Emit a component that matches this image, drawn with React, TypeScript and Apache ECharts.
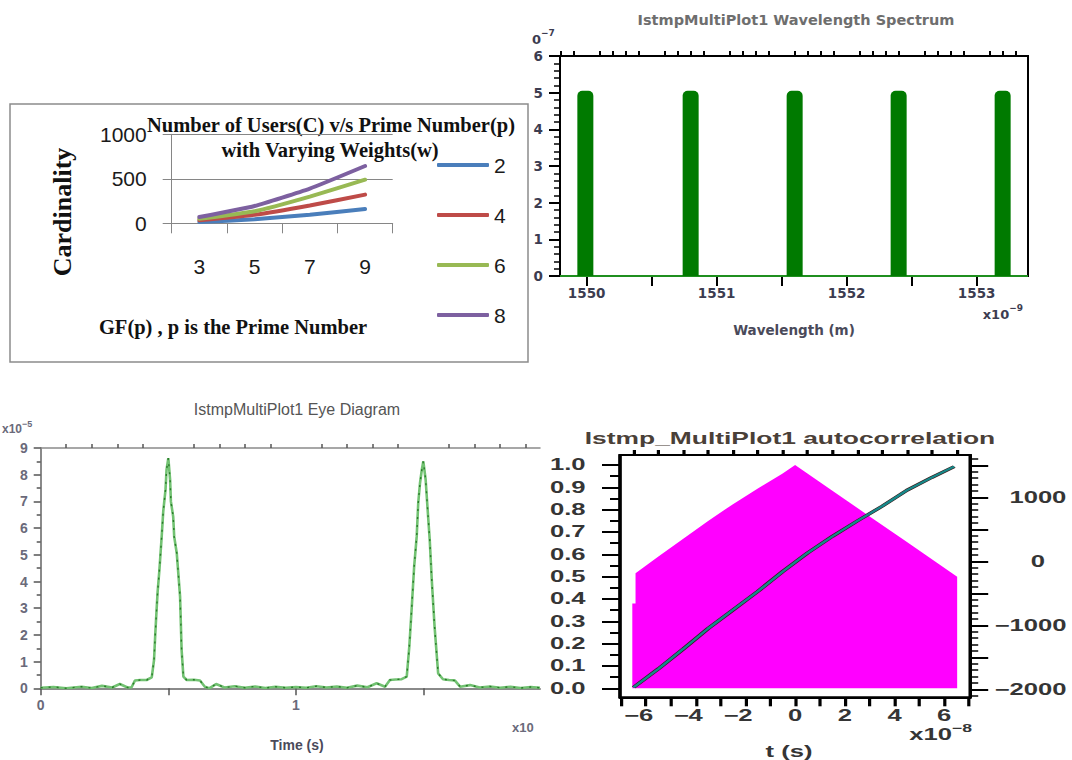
import React, { useEffect, useRef } from "react";
import * as echarts from "echarts";

// ---------- Chart 1: Number of users vs prime number ----------
const primeCategories = ["3", "5", "7", "9"];
const weightLabels = ["2", "4", "6", "8"];
const usersW2 = [15, 45, 97, 160];
const usersW4 = [33, 95, 200, 322];
const usersW6 = [50, 135, 300, 490];
const usersW8 = [70, 195, 390, 644];
const weightColors = ["#4a7ebb", "#be4b48", "#98b954", "#7d60a0"];

// ---------- Chart 2: wavelength spectrum ----------
const peakWavelengths = [1549.99, 1550.8, 1551.6, 1552.4, 1553.2];
const peakPowers = [5.05, 5.05, 5.05, 5.05, 5.05];
const baselineWavelengths = [1549.795, 1553.395];
const baselinePowers = [0, 0];
const specLabelValues = [1550, 1551, 1552, 1553];
const specMajorTickValues = [1550, 1550.5, 1551, 1551.5, 1552, 1552.5, 1553];

// ---------- Chart 3: eye diagram ----------
const eyeTime = [0, 0.05, 0.1, 0.16, 0.2, 0.24, 0.28, 0.31, 0.34, 0.356, 0.369, 0.39, 0.415, 0.435, 0.444, 0.449, 0.454, 0.458, 0.465, 0.474, 0.48, 0.489, 0.493, 0.5, 0.507, 0.51, 0.519, 0.523, 0.533, 0.539, 0.546, 0.552, 0.559, 0.572, 0.6, 0.624, 0.643, 0.66, 0.687, 0.72, 0.76, 0.8, 0.84, 0.88, 0.92, 0.96, 1.0, 1.04, 1.08, 1.12, 1.16, 1.2, 1.24, 1.28, 1.316, 1.349, 1.368, 1.39, 1.414, 1.434, 1.444, 1.453, 1.463, 1.473, 1.479, 1.486, 1.493, 1.499, 1.508, 1.515, 1.524, 1.532, 1.543, 1.557, 1.576, 1.6, 1.623, 1.643, 1.682, 1.72, 1.76, 1.8, 1.84, 1.88, 1.92, 1.956];
const eyeAmp = [0.02, 0.05, 0.0, 0.06, 0.01, 0.09, 0.03, 0.16, 0.03, 0.04, 0.29, 0.31, 0.31, 0.41, 1.06, 2.06, 2.94, 3.6, 4.43, 5.69, 6.62, 7.44, 8.19, 8.62, 7.81, 7.0, 6.43, 5.68, 5.06, 4.31, 3.43, 1.44, 0.44, 0.31, 0.32, 0.29, 0.06, 0.0, 0.16, 0.03, 0.08, 0.02, 0.07, 0.01, 0.06, 0.02, 0.05, 0.02, 0.08, 0.03, 0.07, 0.02, 0.1, 0.04, 0.19, 0.06, 0.31, 0.33, 0.34, 0.44, 1.56, 2.94, 4.56, 5.69, 6.94, 7.69, 8.19, 8.5, 7.81, 6.81, 5.56, 4.06, 2.31, 0.56, 0.34, 0.31, 0.29, 0.06, 0.12, 0.03, 0.07, 0.02, 0.06, 0.01, 0.05, 0.02];
const eyeLabelValues = [0, 1];
const eyeMajorTickValues = [0, 0.5, 1, 1.5];

// ---------- Chart 4: autocorrelation ----------
const acTime = [-6.55, -6.42, -6.42, -5.5, -4.5, -3.5, -2.5, -1.5, -0.5, 0, 1.5, 3, 4.5, 6.52];
const acValue = [0.38, 0.38, 0.515, 0.59, 0.67, 0.75, 0.825, 0.895, 0.962, 1.0, 0.885, 0.77, 0.655, 0.5];
const slopeTime = [-6.5, -5.5, -4.5, -3.5, -2.5, -1.5, -0.5, 0.5, 1.5, 2.5, 3.5, 4.5, 5.5, 6.4];
const slopeValue = [-1970, -1680, -1370, -1050, -760, -470, -160, 130, 390, 630, 860, 1110, 1310, 1480];
const acRightLabelValues = [-2000, -1000, 0, 1000];
const acBottomLabelValues = [-6, -4, -2, 0, 2, 4, 6];

function tickRange(start: number, end: number, step: number, skip?: number[]) {
  const out: number[] = [];
  const n = Math.round((end - start) / step);
  for (let i = 0; i <= n; i++) {
    const v = +(start + i * step).toFixed(6);
    if (!skip || !skip.some((s) => Math.abs(s - v) < 1e-9)) out.push(v);
  }
  return out;
}

const specMinorTickValues = tickRange(1549.8, 1553.3, 0.1, specMajorTickValues);
const eyeMinorTickValues = tickRange(0.1, 1.9, 0.1, eyeMajorTickValues);
const acLeftValues = tickRange(0, 1, 0.1);
const acLeftMinorValues = tickRange(0.05, 0.95, 0.1);
const acRightMajorValues = tickRange(-2000, 1500, 500);
const acRightMinorValues = tickRange(-2100, 1600, 100, acRightMajorValues);
const acBottomMajorValues = tickRange(-7, 7, 1);
const acBottomMinorValues = tickRange(-6.5, 6.5, 1);

const SANS = "Liberation Sans";
const SERIF = "Liberation Serif";
const DV = "DejaVu Sans";

function txt(x: number, y: number, text: string, font: string, fill: string, align = "center", extra: any = {}) {
  return {
    type: "text",
    x,
    y,
    ...extra,
    style: { text, font, fill, align, verticalAlign: "middle", textAlign: align, textVerticalAlign: "middle" },
  };
}

function supText(x: number, y: number, base: string, sup: string, size: number, supSize: number, family: string, weight: string, fill: string, align: string) {
  return {
    type: "text",
    x,
    y,
    style: {
      text: `{a|${base}}{b|${sup}}`,
      align,
      textAlign: align,
      verticalAlign: "middle",
      textVerticalAlign: "middle",
      rich: {
        a: { fontSize: size, fontFamily: family, fontWeight: weight, fill, lineHeight: size + 4, verticalAlign: "bottom" },
        b: { fontSize: supSize, fontFamily: family, fontWeight: weight, fill, verticalAlign: "top", lineHeight: size + 4 },
      },
    },
  };
}

function buildMainOption() {
  const specLabel = { fontFamily: DV, fontWeight: "bold", fontSize: 13.5, color: "#3c3c50" };
  const eyeLabel = { fontFamily: SANS, fontWeight: "bold", fontSize: 14, color: "#6a6a7a" };
  const plain = (v: number) => String(v);
  return {
    animation: false,
    backgroundColor: "#ffffff",
    grid: [
      { left: 171.7, top: 134.3, width: 221, height: 89 },
      { left: 560, top: 56, width: 468, height: 220, show: true, borderColor: "#000", borderWidth: 2 },
      { left: 40.7, top: 448, width: 499.3, height: 240.3 },
    ],
    legend: {
      orient: "vertical",
      left: 432,
      top: 148,
      itemWidth: 52,
      itemHeight: 4,
      itemGap: 26,
      icon: "roundRect",
      data: weightLabels,
      textStyle: { fontFamily: SANS, fontSize: 21, color: "#1a1a1a", lineHeight: 24 },
    },
    xAxis: [
      {
        type: "category",
        gridIndex: 0,
        data: primeCategories,
        boundaryGap: true,
        axisLine: { onZero: false, lineStyle: { color: "#868686", width: 1 } },
        axisTick: { show: true, length: 10, lineStyle: { color: "#868686" } },
        axisLabel: { margin: 33, fontFamily: SANS, fontSize: 21, color: "#1a1a1a" },
      },
      {
        type: "value",
        gridIndex: 1,
        min: 1549.795,
        max: 1553.395,
        axisLine: { onZero: false, lineStyle: { color: "#000", width: 2 } },
        axisTick: { customValues: specMajorTickValues, length: 10, lineStyle: { color: "#000", width: 2 } },
        axisLabel: { customValues: specLabelValues, margin: 10, formatter: plain, ...specLabel },
        splitLine: { show: false },
      },
      {
        type: "value",
        gridIndex: 1,
        min: 1549.795,
        max: 1553.395,
        axisLine: { show: false, onZero: false },
        axisTick: { customValues: specMinorTickValues, length: 5, lineStyle: { color: "#000", width: 2 } },
        axisLabel: { show: false },
        splitLine: { show: false },
      },
      {
        type: "value",
        gridIndex: 2,
        min: 0,
        max: 1.956,
        axisLine: { onZero: false, lineStyle: { color: "#8a8a8a", width: 2 } },
        axisTick: { customValues: eyeMajorTickValues, length: 7, lineStyle: { color: "#555", width: 1.5 } },
        axisLabel: { customValues: eyeLabelValues, margin: 10, formatter: plain, ...eyeLabel },
        splitLine: { show: false },
      },
      {
        type: "value",
        gridIndex: 2,
        min: 0,
        max: 1.956,
        axisLine: { show: false, onZero: false },
        axisTick: { customValues: eyeMinorTickValues, length: 4, lineStyle: { color: "#555", width: 1.5 } },
        axisLabel: { show: false },
        splitLine: { show: false },
      },
      {
        type: "value",
        gridIndex: 2,
        position: "top",
        min: 0,
        max: 1.956,
        axisLine: { show: true, onZero: false, lineStyle: { color: "#8a8a8a", width: 1.5 } },
        axisTick: { show: false },
        axisLabel: { show: false },
        splitLine: { show: false },
      },
    ],
    yAxis: [
      {
        type: "value",
        gridIndex: 0,
        min: 0,
        max: 1000,
        interval: 500,
        axisLine: { show: true, onZero: false, lineStyle: { color: "#868686" } },
        axisTick: { show: true, length: 9, lineStyle: { color: "#868686" } },
        splitLine: { lineStyle: { color: "#868686" } },
        axisLabel: { margin: 25, formatter: plain, fontFamily: SANS, fontSize: 21, color: "#1a1a1a" },
      },
      {
        type: "value",
        gridIndex: 1,
        min: 0,
        max: 6,
        interval: 1,
        axisLine: { show: true, onZero: false, lineStyle: { color: "#000", width: 2 } },
        axisTick: { show: true, length: 11, lineStyle: { color: "#000", width: 2 } },
        minorTick: { show: true, splitNumber: 5, length: 6, lineStyle: { color: "#000", width: 1.5 } },
        splitLine: { show: false },
        axisLabel: { margin: 17, formatter: plain, ...specLabel },
      },
      {
        type: "value",
        gridIndex: 2,
        min: 0,
        max: 9,
        interval: 1,
        axisLine: { show: true, onZero: false, lineStyle: { color: "#8a8a8a", width: 2 } },
        axisTick: { show: true, length: 7, lineStyle: { color: "#555", width: 1.5 } },
        minorTick: { show: true, splitNumber: 2, length: 4, lineStyle: { color: "#555", width: 1.5 } },
        splitLine: { show: false },
        axisLabel: { margin: 13, formatter: plain, ...eyeLabel },
      },
    ],
    series: [
      ...[usersW2, usersW4, usersW6, usersW8].map((vals, i) => ({
        name: weightLabels[i],
        type: "line",
        xAxisIndex: 0,
        yAxisIndex: 0,
        data: vals,
        smooth: 0.15,
        symbol: "none",
        color: weightColors[i],
        lineStyle: { width: 4, color: weightColors[i], cap: "round" },
      })),
      {
        type: "line",
        xAxisIndex: 1,
        yAxisIndex: 1,
        data: baselineWavelengths.map((w, i) => [w, baselinePowers[i]]),
        symbol: "none",
        lineStyle: { color: "#1f8f1f", width: 2 },
        z: 3,
      },
      {
        type: "bar",
        xAxisIndex: 1,
        yAxisIndex: 1,
        data: peakWavelengths.map((w, i) => [w, peakPowers[i]]),
        barWidth: 16,
        itemStyle: { color: "#007a00", borderRadius: [5, 5, 0, 0] },
        z: 4,
      },
      {
        type: "line",
        xAxisIndex: 3,
        yAxisIndex: 2,
        data: eyeTime.map((t, i) => [t, eyeAmp[i]]),
        symbol: "none",
        lineStyle: { color: "#72c272", width: 2.6 },
      },
      {
        type: "line",
        xAxisIndex: 3,
        yAxisIndex: 2,
        data: eyeTime.map((t, i) => [t, eyeAmp[i]]),
        symbol: "none",
        lineStyle: { color: "#2a7a2a", width: 1.4, type: [2, 6] },
      },
    ],
    graphic: [
      { type: "rect", shape: { x: 10, y: 104, width: 518, height: 258 }, style: { fill: "none", stroke: "#8c8c8c", lineWidth: 1.5 } },
      txt(331, 125, "Number of Users(C) v/s Prime Number(p)", `bold 20.5px "${SERIF}"`, "#111"),
      txt(330, 150, "with Varying Weights(w)", `bold 20.5px "${SERIF}"`, "#111"),
      txt(62, 212, "Cardinality", `bold 26px "${SERIF}"`, "#111", "center", { rotation: Math.PI / 2 }),
      txt(233, 327, "GF(p) , p is the Prime Number", `bold 20.5px "${SERIF}"`, "#111"),
      txt(796, 20, "IstmpMultiPlot1 Wavelength Spectrum", `bold 14.5px "${DV}"`, "#6e6e6e"),
      supText(532, 37, "0", "−7", 13, 9, DV, "bold", "#3c3c50", "left"),
      supText(1023, 312, "x10", "−9", 13, 9, DV, "bold", "#3c3c50", "right"),
      txt(794, 330, "Wavelength (m)", `bold 13.5px "${DV}"`, "#4a4a5a"),
      txt(297, 409, "IstmpMultiPlot1 Eye Diagram", `16px "${SANS}"`, "#555"),
      supText(2, 427, "x10", "−5", 12, 9, SANS, "bold", "#6a6a7a", "left"),
      txt(297, 745, "Time (s)", `bold 14px "${SANS}"`, "#4a4a5a"),
      txt(512, 727, "x10", `bold 13px "${SANS}"`, "#6a6a7a", "left"),
    ],
  };
}

function buildAcOption() {
  const lab = { fontFamily: SANS, fontWeight: "bold", fontSize: 16, color: "#353535" };
  const rich = { n: { ...lab, padding: [0, 9.3, 0, 0] } };
  const minusFmt = (v: number) => (v < 0 ? `{n|−${Math.abs(v)}}` : String(v));
  const xr = { min: -7.045, max: 7.045 };
  return {
    animation: false,
    grid: { left: 50, top: 35, width: 220.2, height: 242.3, show: true, borderColor: "#000", borderWidth: 2 },
    xAxis: [
      {
        type: "value",
        ...xr,
        axisLine: { onZero: false, lineStyle: { color: "#000", width: 2 } },
        axisTick: { customValues: acBottomMajorValues, length: 9, lineStyle: { color: "#000", width: 2 } },
        axisLabel: { customValues: acBottomLabelValues, margin: 10, formatter: minusFmt, rich, ...lab },
        splitLine: { show: false },
      },
      {
        type: "value",
        ...xr,
        axisLine: { show: false, onZero: false },
        axisTick: { customValues: acBottomMinorValues, length: 5, lineStyle: { color: "#000", width: 2 } },
        axisLabel: { show: false },
        splitLine: { show: false },
      },
    ],
    yAxis: [
      {
        type: "value",
        position: "left",
        min: -0.04,
        max: 1.045,
        axisLine: { show: true, onZero: false, lineStyle: { color: "#000", width: 2 } },
        axisTick: { show: true, customValues: acLeftValues, length: 11.25, lineStyle: { color: "#000", width: 2 } },
        axisLabel: { customValues: acLeftValues, margin: 21.5, formatter: (v: number) => v.toFixed(1), ...lab },
        splitLine: { show: false },
      },
      {
        type: "value",
        position: "left",
        min: -0.04,
        max: 1.045,
        axisLine: { show: false, onZero: false },
        axisTick: { show: true, customValues: acLeftMinorValues, length: 6.25, lineStyle: { color: "#000", width: 2 } },
        axisLabel: { show: false },
        splitLine: { show: false },
      },
      {
        type: "value",
        position: "right",
        min: -2125,
        max: 1661,
        axisLine: { show: true, onZero: false, lineStyle: { color: "#000", width: 2 } },
        axisTick: { show: true, customValues: acRightMajorValues, length: 11.25, lineStyle: { color: "#000", width: 2 } },
        axisLabel: { customValues: acRightLabelValues, margin: 42.3, align: "center", formatter: minusFmt, rich, ...lab },
        splitLine: { show: false },
      },
      {
        type: "value",
        position: "right",
        min: -2125,
        max: 1661,
        axisLine: { show: false, onZero: false },
        axisTick: { show: true, customValues: acRightMinorValues, length: 5, lineStyle: { color: "#000", width: 1.5 } },
        axisLabel: { show: false },
        splitLine: { show: false },
      },
    ],
    series: [
      {
        type: "line",
        xAxisIndex: 0,
        yAxisIndex: 0,
        data: acTime.map((t, i) => [t, acValue[i]]),
        symbol: "none",
        lineStyle: { width: 0 },
        areaStyle: { color: "#ff00ff", opacity: 1 },
      },
      {
        type: "line",
        xAxisIndex: 0,
        yAxisIndex: 2,
        data: slopeTime.map((t, i) => [t, slopeValue[i]]),
        symbol: "none",
        lineStyle: { color: "#3a1818", width: 3 },
      },
      {
        type: "line",
        xAxisIndex: 0,
        yAxisIndex: 2,
        data: slopeTime.map((t, i) => [t, slopeValue[i]]),
        symbol: "none",
        lineStyle: { color: "#17898a", width: 2 },
      },
    ],
    graphic: [
      txt(156.25, 18.3, "Istmp_MultiPlot1 autocorrelation", `bold 16.5px "${SANS}"`, "#4a4038"),
      supText(270, 313, "x10", "−8", 16, 11, SANS, "bold", "#353535", "right"),
      txt(155.6, 332, "t (s)", `bold 16px "${SANS}"`, "#353535"),
    ],
  };
}

export default function App() {
  const mainRef = useRef<HTMLDivElement>(null);
  const acRef = useRef<HTMLDivElement>(null);

  useEffect(() => {
    const main = echarts.init(mainRef.current!, undefined, { renderer: "svg" });
    main.setOption(buildMainOption() as any);
    const ac = echarts.init(acRef.current!, undefined, { renderer: "svg" });
    ac.setOption(buildAcOption() as any);
    return () => {
      main.dispose();
      ac.dispose();
    };
  }, []);

  return (
    <>
      <div ref={mainRef} style={{ position: "absolute", left: 0, top: 0, width: 1072, height: 760 }} />
      <div
        ref={acRef}
        style={{
          position: "absolute",
          left: 540,
          top: 420,
          width: 332,
          height: 340,
          transform: "scaleX(1.6)",
          transformOrigin: "0 0",
        }}
      />
    </>
  );
}
